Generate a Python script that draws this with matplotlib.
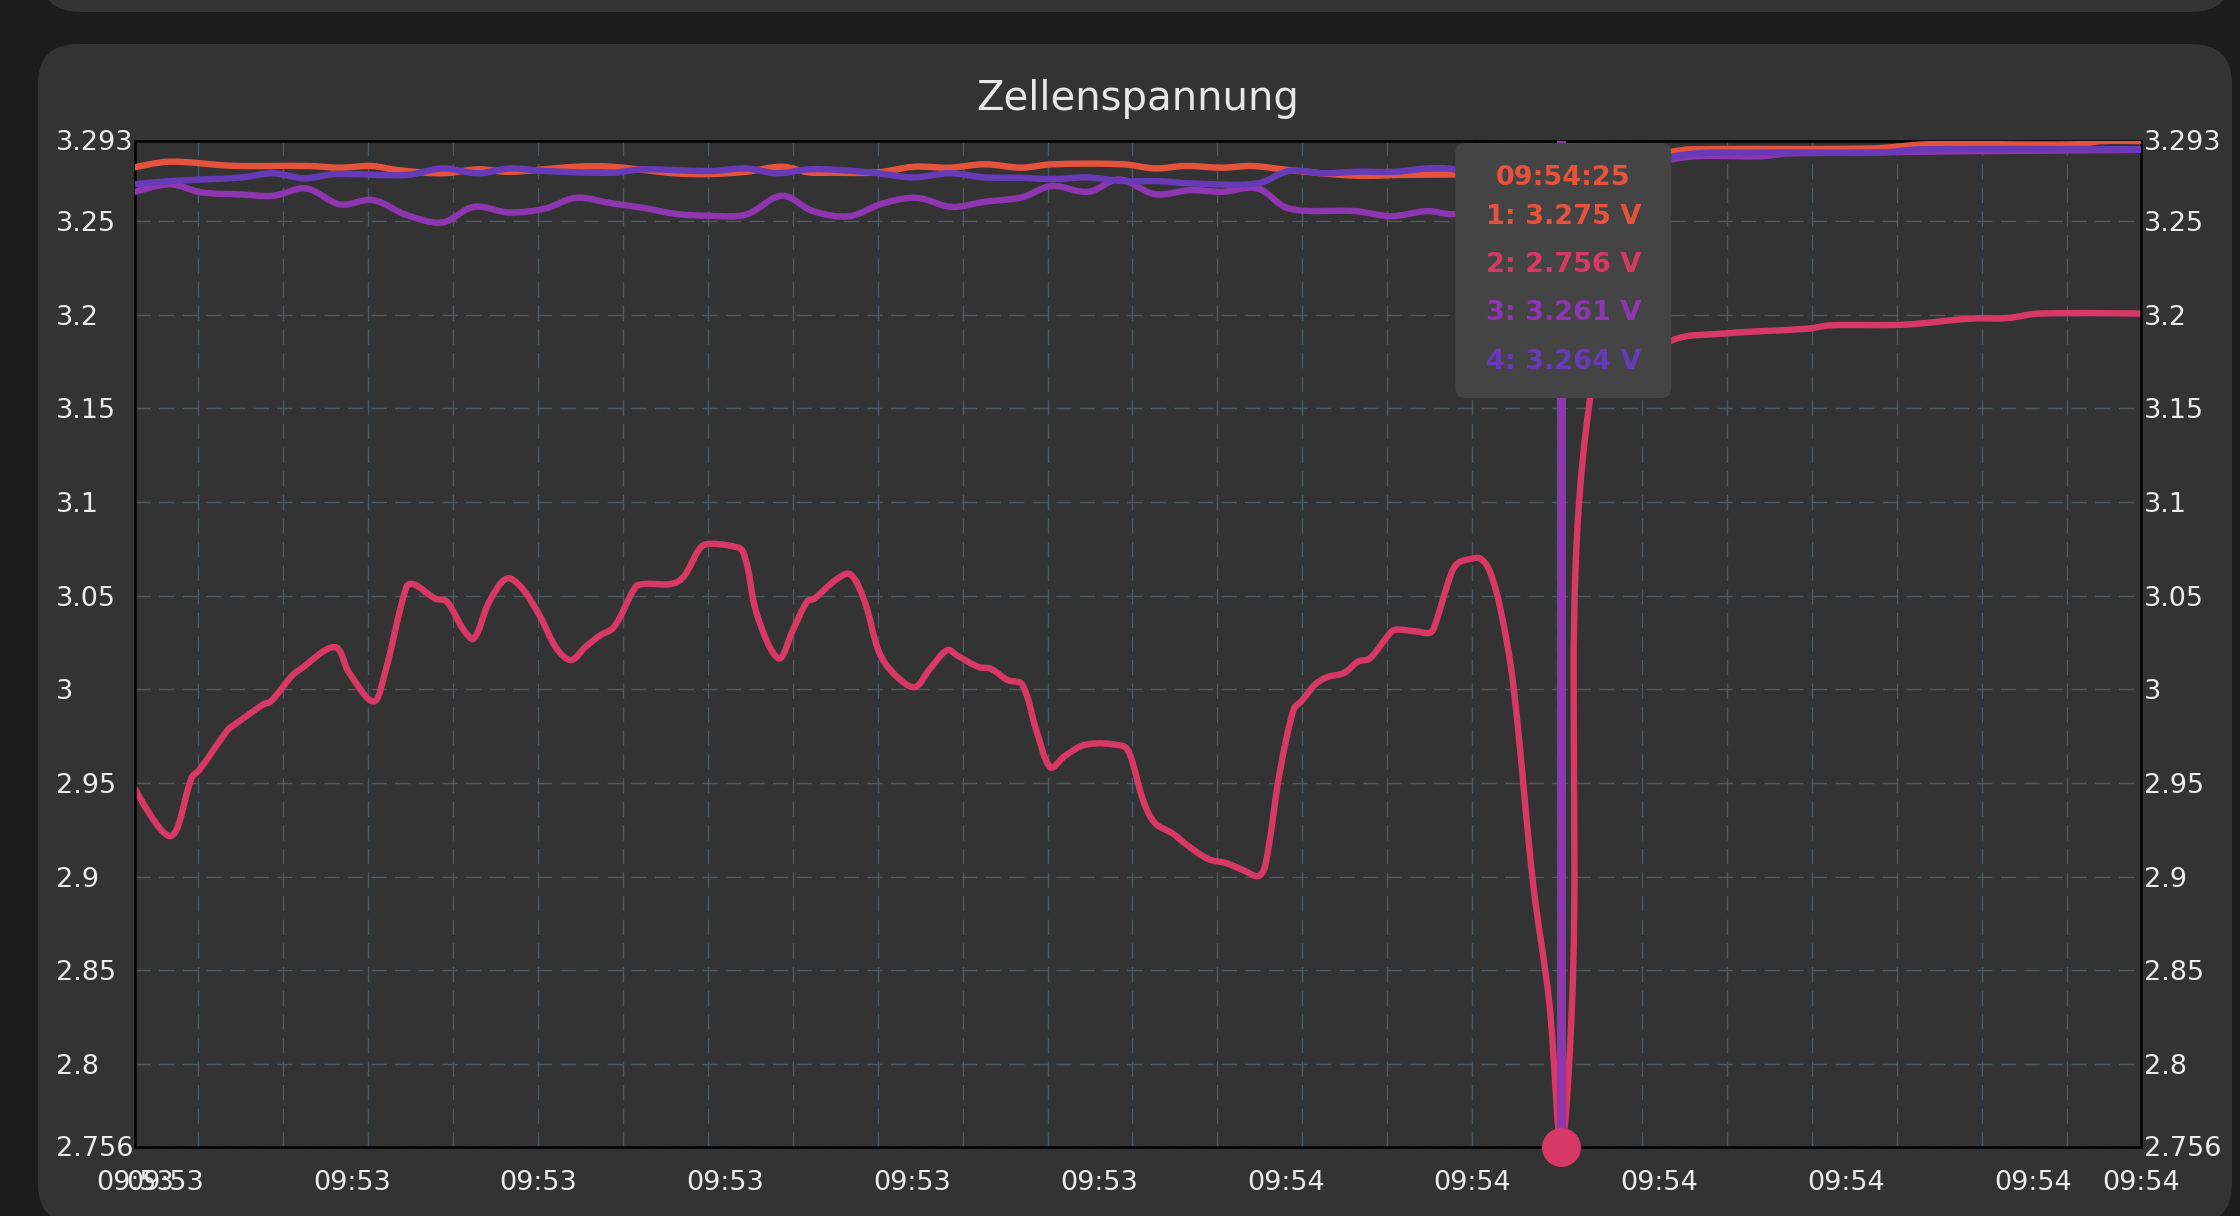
import matplotlib
matplotlib.use("Agg")
import numpy as np
import matplotlib.pyplot as plt
from matplotlib.patches import FancyBboxPatch, PathPatch
from matplotlib.path import Path
from matplotlib.transforms import IdentityTransform

W, H = 2240, 1216

# x runs in sample units: 0 = left edge of the plot, 100 = right edge
s1_x = [0, 1.74, 4.87, 8.65, 10.22, 11.76, 13.11, 15.33, 17.10, 18.67, 21.98, 23.78,
        26.90, 28.66, 30.46, 32.25, 33.58, 34.65, 37.04, 38.82, 40.60, 42.37, 44.17,
        45.71, 49.28, 50.84, 52.39, 54.19, 55.73, 57.52, 60.85, 63.06, 65.75, 71.1,
        76.62, 77.62, 86.69, 89.38, 96.71, 98.06, 100]
s1_y = [3.2787, 3.2817, 3.2795, 3.2794, 3.2785, 3.2794, 3.2772, 3.2755, 3.2776, 3.2763,
        3.2790, 3.2790, 3.2755, 3.2751, 3.2763, 3.2790, 3.2760, 3.2758, 3.2760, 3.2790,
        3.2785, 3.2803, 3.2785, 3.2803, 3.2803, 3.2781, 3.2794, 3.2785, 3.2794, 3.2772,
        3.2742, 3.2746, 3.2749, 3.275, 3.2870, 3.2883, 3.2888, 3.2910, 3.2910, 3.2927,
        3.2927]

s2_x = [0, 1.77, 2.84, 3.20, 4.62, 4.98, 6.40, 6.76, 7.83, 8.18, 9.97, 10.68, 11.89,
        12.46, 13.53, 13.89, 14.96, 15.53, 16.39, 16.89, 17.67, 18.53, 19.24, 20.17,
        21.02, 21.74, 22.45, 23.17, 23.88, 24.95, 25.31, 27.09, 28.16, 28.52, 29.59,
        30.30, 31.02, 32.09, 32.80, 33.51, 33.87, 34.94, 35.65, 36.37, 37.08, 37.79,
        38.86, 39.58, 40.50, 41.00, 42.07, 42.65, 43.50, 44.22, 44.93, 45.64, 46.36,
        47.43, 49.21, 49.57, 50.28, 50.85, 51.71, 52.42, 53.49, 54.42, 55.27, 55.99,
        56.34, 57.06, 57.77, 58.13, 58.84, 59.41, 60.27, 60.98, 61.55, 62.41, 62.77,
        63.84, 64.55, 64.77, 65.63, 65.98, 66.70, 67.06, 67.50, 68.05, 68.70, 69.70,
        70.50, 71.1, 71.64, 72.6, 76.62, 79.13, 83.43, 84.47, 88.22, 91.46,
        93.31, 94.91, 100]
s2_y = [2.9469, 2.9217, 2.9531, 2.9569, 2.9783, 2.9813, 2.9920, 2.9935, 3.0073, 3.0103,
        3.0226, 3.0088, 2.9935, 3.0088, 3.0547, 3.0562, 3.0485, 3.0470, 3.0317, 3.0271,
        3.0470, 3.0592, 3.0547, 3.0394, 3.0218, 3.0157, 3.0226, 3.0287, 3.0333, 3.0547,
        3.0562, 3.0577, 3.0753, 3.0776, 3.0768, 3.0737, 3.0394, 3.0165, 3.0317, 3.0470,
        3.0485, 3.0585, 3.0615, 3.0470, 3.0203, 3.0088, 3.0012, 3.0103, 3.0210, 3.0180,
        3.0119, 3.0111, 3.0050, 3.0027, 2.9783, 2.9584, 2.9645, 2.9706, 2.9699, 2.9660,
        2.9401, 2.9286, 2.9232, 2.9171, 2.9095, 2.9072, 2.9034, 2.9003, 2.9057, 2.9553,
        2.9897, 2.9935, 3.0027, 3.0065, 3.0088, 3.0149, 3.0165, 3.0279, 3.0317, 3.0310,
        3.0302, 3.0333, 3.0623, 3.0676, 3.0699, 3.0699, 3.0640, 3.0438, 3.0030, 2.8960,
        2.8330, 2.756, 2.8334, 3.1600, 3.1863, 3.1899, 3.1926, 3.1943, 3.1947,
        3.1979, 3.1982, 3.2006, 3.2006]

s3_x = [0, 1.74, 3.31, 5.31, 6.88, 8.52, 10.22, 11.86, 13.55, 15.33, 16.89, 18.67,
        20.44, 22.00, 23.78, 25.32, 26.90, 28.66, 30.46, 32.25, 33.80, 35.60, 37.27,
        38.94, 40.71, 42.37, 44.17, 45.71, 47.51, 49.08, 50.84, 52.62, 54.19, 55.96,
        57.52, 60.85, 62.61, 64.41, 65.75, 71.1, 76.62, 81.2, 82.4, 100]
s3_y = [3.2656, 3.2696, 3.2653, 3.2642, 3.2635, 3.2674, 3.2589, 3.2612, 3.2532, 3.2493,
        3.2576, 3.2546, 3.2567, 3.2624, 3.2594, 3.2571, 3.2539, 3.2528, 3.2535, 3.2635,
        3.2553, 3.2526, 3.2594, 3.2624, 3.2576, 3.2603, 3.2626, 3.2687, 3.2656, 3.2722,
        3.2644, 3.2665, 3.2656, 3.2674, 3.2567, 3.2553, 3.2526, 3.2553, 3.2537, 3.261,
        3.2829, 3.2847, 3.2861, 3.2880]

s4_x = [0, 1.74, 5.31, 6.88, 8.43, 9.97, 13.55, 15.33, 17.10, 18.67, 20.44, 23.78,
        25.32, 28.66, 30.46, 32.0, 33.58, 35.25, 37.04, 38.82, 40.60, 42.37, 44.17,
        45.71, 47.51, 49.28, 51.04, 52.62, 55.96, 57.52, 59.28, 60.85, 62.86, 64.41,
        65.75, 71.1, 76.62, 81.0, 87.0, 89.0, 100]
s4_y = [3.2696, 3.2713, 3.2733, 3.2755, 3.2728, 3.2751, 3.2746, 3.2781, 3.2755, 3.2781,
        3.2767, 3.2758, 3.2776, 3.2767, 3.2781, 3.2755, 3.2776, 3.2772, 3.2755, 3.2733,
        3.2755, 3.2733, 3.2731, 3.2724, 3.2733, 3.2713, 3.2713, 3.2701, 3.2701, 3.2767,
        3.2755, 3.2763, 3.2763, 3.2781, 3.2776, 3.264, 3.2843, 3.2865, 3.2865, 3.2883,
        3.2883]

series_names = ['1', '2', '3', '4']
series_colors = ['#e5533d', '#d83868', '#8e35b0', '#673ab7']

y_ticks = [2.756, 2.8, 2.85, 2.9, 2.95, 3.0, 3.05, 3.1, 3.15, 3.2, 3.25, 3.293]
y_labels = ['2.756', '2.8', '2.85', '2.9', '2.95', '3', '3.05', '3.1', '3.15', '3.2',
            '3.25', '3.293']

grid_x = [3.14 + 4.235 * k for k in range(23)]
label_x = [0, 1.5, 10.80, 20.11, 29.42, 38.74, 48.05, 57.36, 66.67, 75.98, 85.30, 94.61, 100]
label_text = ['09:53', '09:53', '09:53', '09:53', '09:53', '09:53', '09:53',
              '09:54', '09:54', '09:54', '09:54', '09:54', '09:54']

# hovered sample
hover_x = 71.1
hover_time = '09:54:25'
hover_vals = ['3.275', '2.756', '3.261', '3.264']

fig = plt.figure(figsize=(W / 100, H / 100), dpi=100)
fig.patch.set_facecolor('#1c1c1c')


def card(x0, top, x1, bottom, r, color):
    p = FancyBboxPatch((x0, H - bottom), x1 - x0, bottom - top,
                       boxstyle=f"round,pad=0,rounding_size={r}",
                       transform=IdentityTransform(), facecolor=color,
                       edgecolor='none', zorder=-5)
    fig.add_artist(p)


def spline_path(ax, xs, ys, tension=0.35):
    # chart.js style spline, control points worked out in pixel space
    pts = ax.transData.transform(np.column_stack([xs, ys]))
    n = len(pts)
    prev_cp = pts.copy()
    next_cp = pts.copy()
    for i in range(1, n - 1):
        p0, p1, p2 = pts[i - 1], pts[i], pts[i + 1]
        d01 = np.hypot(*(p1 - p0))
        d12 = np.hypot(*(p2 - p1))
        tot = d01 + d12 if d01 + d12 > 0 else 1
        prev_cp[i] = p1 - tension * d01 / tot * (p2 - p0)
        next_cp[i] = p1 + tension * d12 / tot * (p2 - p0)
    verts = [pts[0]]
    codes = [Path.MOVETO]
    for i in range(n - 1):
        verts += [next_cp[i], prev_cp[i + 1], pts[i + 1]]
        codes += [Path.CURVE4] * 3
    verts = ax.transData.inverted().transform(np.array(verts))
    return Path(verts, codes)


card(40, -80, 2232, 12, 40, '#333333')
card(38, 44, 2232, 1224, 40, '#333333')

ax = fig.add_axes([135 / W, (H - 1146.5) / H, 2006 / W, (1146.5 - 140.5) / H])
ax.set_facecolor('#333333')
ax.set_xlim(0, 100)
ax.set_ylim(2.756, 3.293)

z = {0: 3, 1: 2, 2: 4, 3: 5}
for i, (xs, ys) in enumerate([(s1_x, s1_y), (s2_x, s2_y), (s3_x, s3_y), (s4_x, s4_y)]):
    patch = PathPatch(spline_path(ax, xs, ys), facecolor='none',
                      edgecolor=series_colors[i], lw=4.6, joinstyle='round',
                      capstyle='round', zorder=z[i])
    ax.add_patch(patch)

# hover crosshair
ax.axvline(hover_x, color=series_colors[2], lw=6.5, zorder=6)

ax.set_xticks(grid_x)
ax.set_xticklabels([])
ax.set_xticks(label_x, minor=True)
ax.set_xticklabels(label_text, minor=True)
ax.tick_params(axis='x', which='both', length=0)
ax.tick_params(axis='x', which='minor', pad=17, labelsize=19.5, labelcolor='#ececec')

ax.set_yticks(y_ticks)
ax.set_yticklabels(y_labels, ha='left')
ax.tick_params(axis='y', length=0, pad=57, labelsize=19.5, labelcolor='#ececec')

ax.grid(True, which='major', color='#4d5a62', linestyle=(0, (11, 6)), linewidth=1.0, zorder=0)
ax.set_axisbelow(True)
for s in ax.spines.values():
    s.set_color('black')
    s.set_linewidth(1.8)

ax2 = ax.twinx()
ax2.set_ylim(2.756, 3.293)
ax2.set_yticks(y_ticks)
ax2.set_yticklabels(y_labels)
ax2.tick_params(axis='y', length=0, pad=2, labelsize=19.5, labelcolor='#ececec')
for s in ax2.spines.values():
    s.set_visible(False)

hover_idx = s2_x.index(hover_x)
ax2.plot(hover_x, s2_y[hover_idx], 'o', ms=27, color=series_colors[1],
         clip_on=False, zorder=10)

# tooltip
px, ptop = ax.transData.transform((hover_x, 3.293))
bw, bh = 216, 255
tip = FancyBboxPatch((px + 2 - bw / 2, ptop - 2.5 - bh), bw, bh,
                     boxstyle="round,pad=0,rounding_size=10",
                     transform=IdentityTransform(), facecolor='#444444',
                     edgecolor='none', zorder=20)
fig.add_artist(tip)
rows = [hover_time] + [f'{n}: {v} V' for n, v in zip(series_names, hover_vals)]
row_colors = [series_colors[0]] + series_colors
offs = [35, 74, 122, 170, 219]
for t, c, o in zip(rows, row_colors, offs):
    fig.text(px + 2, ptop - 2.5 - o, t, transform=IdentityTransform(), ha='center',
             va='center', fontsize=19.5, fontweight='bold', color=c, zorder=21)

fig.text(1138 / W, (H - 110) / H, 'Zellenspannung', ha='center', va='baseline',
         fontsize=29, color='#e8e8e8')

fig.savefig('out.png', dpi=100, facecolor=fig.get_facecolor())
